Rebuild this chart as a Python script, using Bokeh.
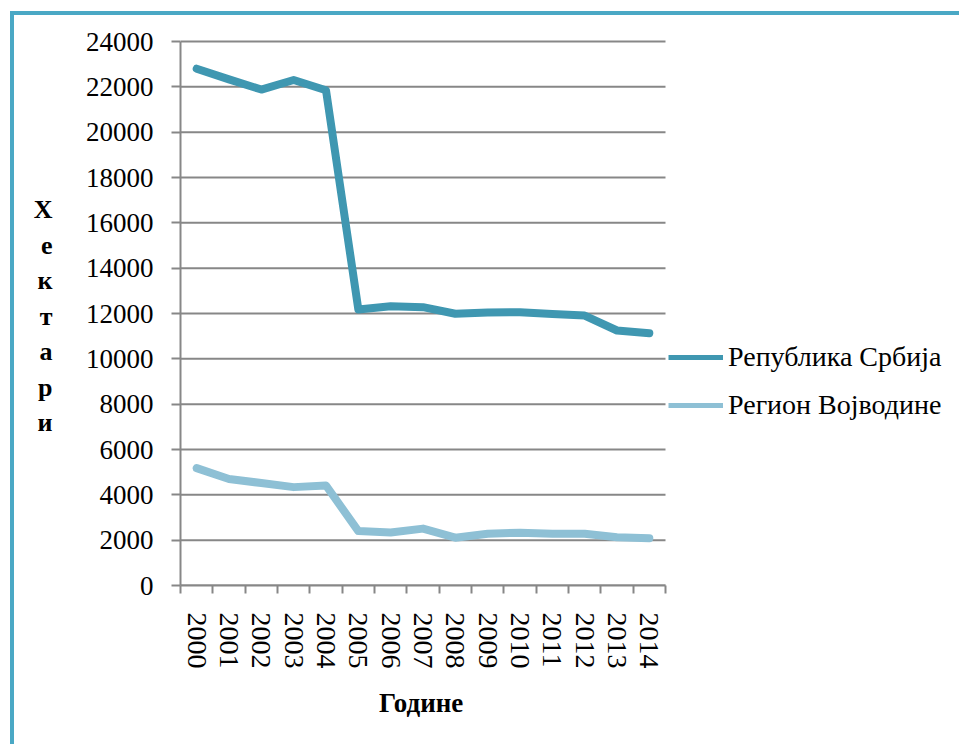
from bokeh.plotting import figure
from bokeh.models import (Range1d, FixedTicker, Legend, LegendItem,
                          LinearAxis, Title)
from bokeh.embed import file_html
from bokeh.resources import INLINE

# Hectares per year
years = ["2000", "2001", "2002", "2003", "2004", "2005", "2006", "2007",
         "2008", "2009", "2010", "2011", "2012", "2013", "2014"]
serbia = [22800, 22330, 21880, 22300, 21850, 12180, 12320, 12280,
          11990, 12040, 12060, 11980, 11910, 11250, 11130]
vojvodina = [5180, 4700, 4520, 4340, 4410, 2400, 2340, 2510,
             2110, 2280, 2330, 2280, 2280, 2130, 2090]
y_ticks = [0, 2000, 4000, 6000, 8000, 10000, 12000, 14000, 16000,
           18000, 20000, 22000, 24000]

series_names = ["Република Србија", "Регион Војводине"]
y_title = "Хектари"
x_title = "Године"

n = len(years)
Y_MAX = y_ticks[-1]

# each year sits in the middle of its own slot; ticks mark the slot edges
centers = [i + 0.5 for i in range(n)]
edges = [float(i) for i in range(n + 1)]

GRID = "#878787"
SERBIA_C = "#3F97B1"
VOJV_C = "#8EC0D5"
FRAME_C = "#4AA8C5"
SERIF = "Liberation Serif"

W, H = 959, 744
# plot area in canvas pixels; the frame itself runs on to the right edge
# so the legend can sit inside it
LEFT, RIGHT, TOP, BOTTOM = 180, 665, 41, 585
FRAME_TOP = 36

x_end = n * (W - LEFT) / (RIGHT - LEFT)
y_end = Y_MAX * (BOTTOM - FRAME_TOP) / (BOTTOM - TOP)

p = figure(width=W, height=H, output_backend="svg", toolbar_location=None,
           x_range=Range1d(0, x_end), y_range=Range1d(0, y_end),
           min_border_left=LEFT, min_border_right=0,
           min_border_top=FRAME_TOP, min_border_bottom=H - BOTTOM)
p.background_fill_color = "white"
p.border_fill_alpha = 0
p.outline_line_color = None
p.grid.grid_line_color = None

# teal page frame along the top and left edges
p.styles = {
    "background-color": "white",
    "background-image": (f"linear-gradient({FRAME_C}, {FRAME_C}), "
                         f"linear-gradient({FRAME_C}, {FRAME_C})"),
    "background-size": f"4px {H - 11}px, {W - 10}px 4px",
    "background-position": "10px 11px, 10px 11px",
    "background-repeat": "no-repeat",
}

# horizontal grid lines spanning the plot area only
p.segment(x0=[0] * len(y_ticks), y0=y_ticks, x1=[n] * len(y_ticks),
          y1=y_ticks, line_color=GRID, line_width=2)

# y axis
ya = p.yaxis[0]
ya.ticker = FixedTicker(ticks=y_ticks)
ya.bounds = (0, Y_MAX)
ya.axis_line_color = GRID
ya.axis_line_width = 2
ya.major_tick_line_color = GRID
ya.major_tick_line_width = 2
ya.major_tick_out = 9
ya.major_tick_in = 0
ya.minor_tick_line_color = None
ya.major_label_standoff = 18
ya.major_label_text_font = SERIF
ya.major_label_text_font_size = "27px"
ya.major_label_text_color = "black"

# y title written letter by letter, top to bottom
letter_px = [209 + 35.5 * i for i in range(len(y_title))]
letter_pos = [Y_MAX * (BOTTOM - py) / (BOTTOM - TOP) for py in letter_px]
ta = LinearAxis(ticker=FixedTicker(ticks=letter_pos),
                major_label_overrides={v: ch for v, ch in
                                       zip(letter_pos, y_title)})
ta.axis_line_color = None
ta.major_tick_line_color = None
ta.minor_tick_line_color = None
ta.major_tick_out = 0
ta.major_tick_in = 0
ta.major_label_standoff = 30
ta.major_label_text_font = SERIF
ta.major_label_text_font_size = "26px"
ta.major_label_text_font_style = "bold"
ta.major_label_text_color = "black"
p.add_layout(ta, "left")

# x axis
xa = p.xaxis[0]
xa.ticker = FixedTicker(ticks=centers, minor_ticks=edges)
xa.bounds = (0, n)
xa.major_label_overrides = {c: y for c, y in zip(centers, years)}
xa.axis_line_color = GRID
xa.axis_line_width = 2
xa.major_tick_line_color = None
xa.major_tick_out = 8
xa.major_tick_in = 0
xa.minor_tick_line_color = GRID
xa.minor_tick_line_width = 2
xa.minor_tick_out = 8
xa.minor_tick_in = 0
xa.major_label_orientation = "vertical"
xa.major_label_standoff = 19
xa.major_label_text_font = SERIF
xa.major_label_text_font_size = "28px"
xa.major_label_text_color = "black"

# x title centred under the plot area (not under the whole frame)
x_title_left = (LEFT + RIGHT) / 2 - 44
p.add_layout(Title(text=x_title, align="left", offset=x_title_left - LEFT,
                   standoff=28, text_font=SERIF, text_font_size="27px",
                   text_font_style="bold", text_color="black"), "below")

# thin copies underneath serve as legend swatches
leg_s = p.line(centers, serbia, line_color=SERBIA_C, line_width=5)
leg_v = p.line(centers, vojvodina, line_color=VOJV_C, line_width=5)

p.line(centers, serbia, line_color=SERBIA_C, line_width=8,
       line_cap="round", line_join="round")
p.line(centers, vojvodina, line_color=VOJV_C, line_width=8,
       line_cap="round", line_join="round")

legend = Legend(items=[LegendItem(label=series_names[0], renderers=[leg_s]),
                       LegendItem(label=series_names[1], renderers=[leg_v])],
                location=(668 - LEFT, 164), orientation="vertical",
                glyph_width=55, glyph_height=30, label_standoff=5,
                spacing=16, padding=0, margin=0,
                label_text_font=SERIF, label_text_font_size="28px",
                label_text_color="black",
                border_line_color=None, background_fill_alpha=0)
p.add_layout(legend)

open("out.html", "w").write(file_html(p, INLINE))
